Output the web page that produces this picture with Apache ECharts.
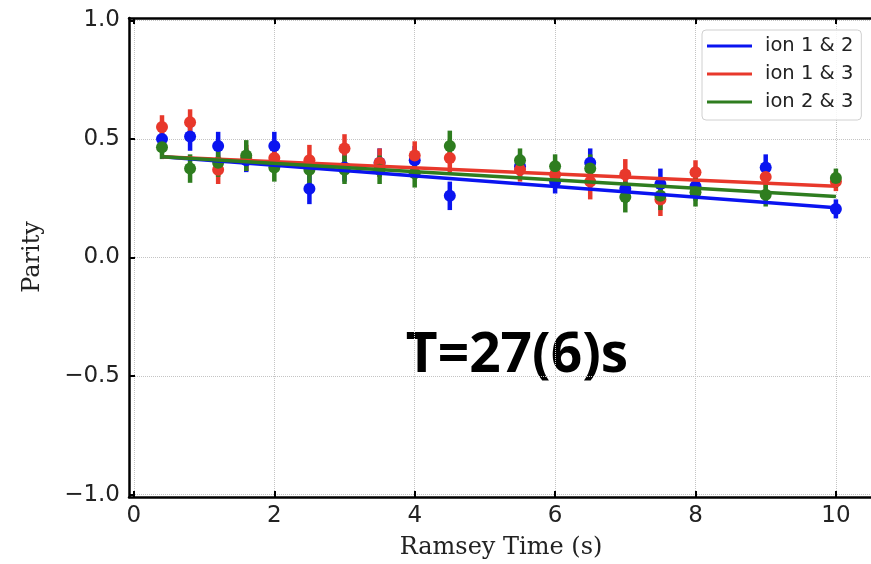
<!DOCTYPE html>
<html>
<head>
<meta charset="utf-8">
<script src="https://cdn.jsdelivr.net/npm/echarts@6/dist/echarts.min.js"></script>
<style>
html,body{margin:0;padding:0;background:#fff;}
#chart{width:871px;height:564px;}
</style>
</head>
<body>
<div id="chart"></div>
<script>
// ---- data ----
const times = [0.4, 0.8, 1.2, 1.6, 2.0, 2.5, 3.0, 3.5, 4.0, 4.5, 5.5, 6.0, 6.5, 7.0, 7.5, 8.0, 9.0, 10.0];

const ion12 = [0.50, 0.51, 0.47, 0.41, 0.47, 0.29, 0.38, 0.40, 0.41, 0.26, 0.385, 0.32, 0.40, 0.29, 0.31, 0.30, 0.38, 0.205];
const ion13 = [0.55, 0.57, 0.37, 0.42, 0.42, 0.41, 0.46, 0.40, 0.43, 0.42, 0.37, 0.35, 0.32, 0.35, 0.245, 0.36, 0.34, 0.32];
const ion23 = [0.465, 0.375, 0.40, 0.43, 0.38, 0.37, 0.37, 0.37, 0.355, 0.47, 0.41, 0.385, 0.375, 0.255, 0.26, 0.275, 0.265, 0.335];

const ion12Err = [0.05, 0.06, 0.06, 0.05, 0.06, 0.065, 0.06, 0.06, 0.06, 0.06, 0.05, 0.05, 0.06, 0.06, 0.065, 0.06, 0.055, 0.04];
const ion13Err = [0.05, 0.055, 0.06, 0.055, 0.06, 0.065, 0.06, 0.06, 0.06, 0.06, 0.05, 0.05, 0.075, 0.065, 0.07, 0.05, 0.05, 0.04];
const ion23Err = [0.05, 0.06, 0.06, 0.065, 0.06, 0.06, 0.06, 0.06, 0.06, 0.065, 0.05, 0.05, 0.06, 0.065, 0.06, 0.06, 0.05, 0.04];

const fitX = [0.4, 10.0];
const fit12 = [0.425, 0.21];
const fit13 = [0.425, 0.30];
const fit23 = [0.425, 0.257];

const seriesNames = ['ion 1 & 2', 'ion 1 & 3', 'ion 2 & 3'];
const xTicks = [0, 2, 4, 6, 8, 10];
const yTicks = [-1.0, -0.5, 0.0, 0.5, 1.0];
const xLabel = 'Ramsey Time (s)';
const yLabel = 'Parity';
const annotation = 'T=27(6)s';

// ---- styling ----
const colors = ['#0a14f0', '#e8382b', '#2e7d1f'];
const fmt = v => (Math.abs(v) < 1e-9 ? 0 : v).toFixed(1).replace('-', '\u2212');

function errSeries(vals, errs, color) {
  return {
    type: 'custom',
    name: 'err',
    silent: true,
    renderItem: function (params, api) {
      const x = api.value(0), y = api.value(1), e = api.value(2);
      const p1 = api.coord([x, y - e]);
      const p2 = api.coord([x, y + e]);
      return {
        type: 'line',
        shape: { x1: p1[0], y1: p1[1], x2: p2[0], y2: p2[1] },
        style: { stroke: color, lineWidth: 4.5 }
      };
    },
    encode: { x: 0, y: 1 },
    data: times.map((t, i) => [t, vals[i], errs[i]])
  };
}
function ptSeries(vals, color) {
  return {
    type: 'scatter',
    name: 'pts',
    symbol: 'circle',
    symbolSize: 12,
    itemStyle: { color: color, opacity: 1 },
    data: times.map((t, i) => [t, vals[i]])
  };
}
function fitSeries(name, vals, color) {
  return {
    type: 'line',
    name: name,
    color: color,
    symbol: 'none',
    lineStyle: { color: color, width: 3.5 },
    data: fitX.map((t, i) => [t, vals[i]])
  };
}

const allVals = [ion12, ion13, ion23];
const allErrs = [ion12Err, ion13Err, ion23Err];
const allFits = [fit12, fit13, fit23];
const series = [];
for (let k = 0; k < 3; k++) {
  series.push(errSeries(allVals[k], allErrs[k], colors[k]));
  series.push(ptSeries(allVals[k], colors[k]));
  series.push(fitSeries(seriesNames[k], allFits[k], colors[k]));
}

const axisFont = { fontFamily: 'DejaVu Sans', fontSize: 23, color: '#222' };
const splitLine = { show: true, lineStyle: { type: 'dotted', color: '#c4c4c4', width: 1 } };
const tickStyle = { show: true, inside: true, length: 6, lineStyle: { color: '#000', width: 2 } };
const spine = { show: true, onZero: false, lineStyle: { color: '#000', width: 2.5 } };

const chart = echarts.init(document.getElementById('chart'), null, { renderer: 'canvas' });
chart.setOption({
  animation: false,
  backgroundColor: '#fff',
  grid: { left: 129, top: 18, width: 747, height: 479, show: false },
  xAxis: [{
    type: 'value', min: -0.07, max: 10.5,
    axisLine: spine,
    axisTick: Object.assign({ customValues: xTicks }, tickStyle),
    axisLabel: Object.assign({ customValues: xTicks, margin: 8, formatter: v => String(v) }, axisFont),
    splitLine: splitLine
  }, {
    type: 'value', min: -0.07, max: 10.5, position: 'top',
    axisLine: spine,
    axisTick: Object.assign({ customValues: xTicks }, tickStyle),
    axisLabel: { show: false, customValues: xTicks },
    splitLine: { show: false }
  }],
  yAxis: [{
    type: 'value', min: -1.01, max: 1.01,
    axisLine: spine,
    axisTick: Object.assign({ customValues: yTicks }, tickStyle),
    axisLabel: Object.assign({ customValues: yTicks, margin: 9, formatter: fmt }, axisFont),
    splitLine: splitLine
  }],
  legend: {
    data: seriesNames.map(n => ({ name: n, icon: 'rect' })),
    orient: 'vertical',
    left: 702, top: 30,
    itemWidth: 45, itemHeight: 3, itemGap: 8,
    textStyle: { fontFamily: 'DejaVu Sans', fontSize: 19.5, color: '#222', padding: [0, 0, 0, 8] },
    backgroundColor: 'rgba(255,255,255,0.85)',
    borderColor: '#d0d0d0', borderWidth: 1, borderRadius: 4,
    padding: [6, 8, 8, 5],
    selectedMode: false
  },
  graphic: [
    { type: 'text', x: 33, y: 257, rotation: Math.PI / 2,
      style: { text: yLabel, fontFamily: 'DejaVu Serif', fontSize: 24, fill: '#222', align: 'center', verticalAlign: 'middle' } },
    { type: 'text', x: 501, y: 548,
      style: { text: xLabel, fontFamily: 'DejaVu Serif', fontSize: 24, fill: '#222', align: 'center', verticalAlign: 'middle' } },
    { type: 'text', x: 517, y: 356,
      style: { text: annotation, fontFamily: 'Open Sans', fontWeight: 'bold', fontSize: 55, fill: '#000', align: 'center', verticalAlign: 'middle' } }
  ],
  series: series
});
</script>
</body>
</html>
